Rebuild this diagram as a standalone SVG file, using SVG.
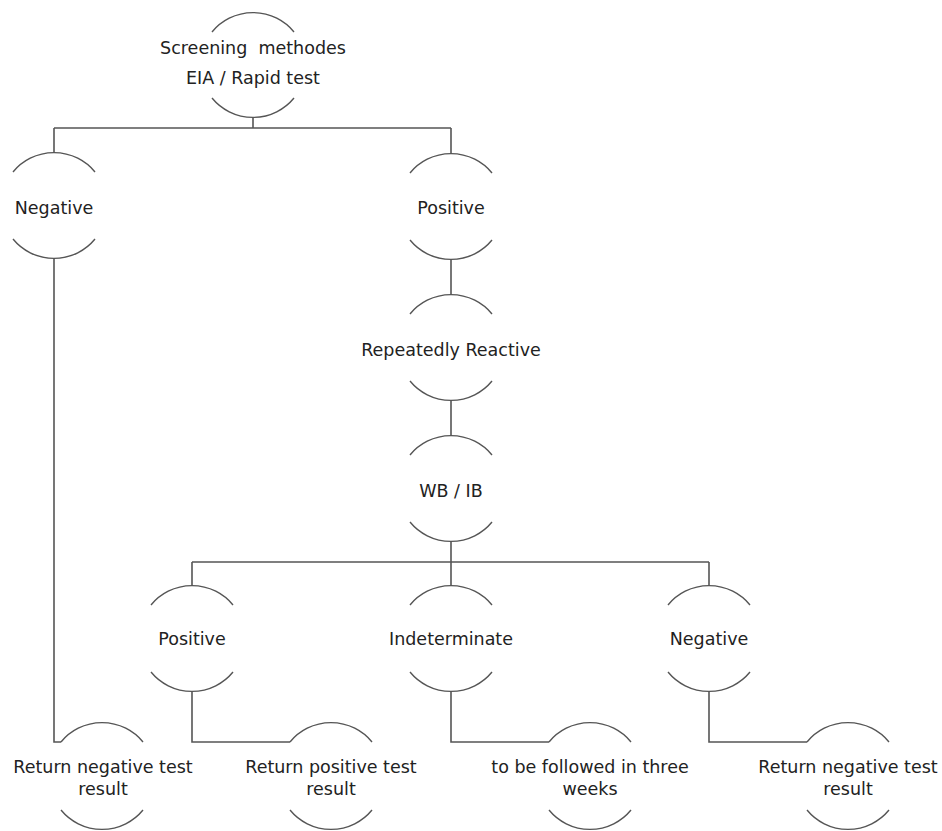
<svg xmlns="http://www.w3.org/2000/svg" width="942" height="831" viewBox="0 0 942 831">
<style>
  .arc { fill: none; stroke: #555; stroke-width: 1.4; }
  .con { fill: none; stroke: #555; stroke-width: 1.6; }
  text { font-family: "DejaVu Sans", Verdana, sans-serif; font-size: 17.5px; fill: #222; text-anchor: middle; white-space: pre; }
</style>
<rect width="942" height="831" fill="#fff"/>
<g id="connectors">
  <path class="con" d="M253,118 V128 M54,128 H451 M54,128 V152 M451,128 V153"/>
  <path class="con" d="M54,258 V742 H61"/>
  <path class="con" d="M451,259 V294"/>
  <path class="con" d="M451,400 V435"/>
  <path class="con" d="M451,541 V562 M192,562 H709 M192,562 V585 M451,562 V585 M709,562 V585"/>
  <path class="con" d="M192,691 V742 H290"/>
  <path class="con" d="M451,691 V742 H549"/>
  <path class="con" d="M709,691 V742 H807"/>
</g>
<g id="n1">
  <path class="arc" d="M212,32 A53,53 0 0 1 294,32 M212,98 A53,53 0 0 0 294,98"/>
  <text x="253" y="54">Screening  methodes</text>
  <text x="253" y="84">EIA / Rapid test</text>
</g>
<g id="n2">
  <path class="arc" d="M13,172 A53,53 0 0 1 95,172 M13,239 A53,53 0 0 0 95,239"/>
  <text x="54" y="214">Negative</text>
</g>
<g id="n3">
  <path class="arc" d="M410,173 A53,53 0 0 1 492,173 M410,240 A53,53 0 0 0 492,240"/>
  <text x="451" y="214">Positive</text>
</g>
<g id="n4">
  <path class="arc" d="M410,314 A53,53 0 0 1 492,314 M410,381 A53,53 0 0 0 492,381"/>
  <text x="451" y="356">Repeatedly Reactive</text>
</g>
<g id="n5">
  <path class="arc" d="M410,455 A53,53 0 0 1 492,455 M410,522 A53,53 0 0 0 492,522"/>
  <text x="451" y="497">WB / IB</text>
</g>
<g id="n6">
  <path class="arc" d="M151,605 A53,53 0 0 1 233,605 M151,672 A53,53 0 0 0 233,672"/>
  <text x="192" y="645">Positive</text>
</g>
<g id="n7">
  <path class="arc" d="M410,605 A53,53 0 0 1 492,605 M410,672 A53,53 0 0 0 492,672"/>
  <text x="451" y="645">Indeterminate</text>
</g>
<g id="n8">
  <path class="arc" d="M668,605 A53,53 0 0 1 750,605 M668,672 A53,53 0 0 0 750,672"/>
  <text x="709" y="645">Negative</text>
</g>
<g id="n9">
  <path class="arc" d="M61,742 A53,53 0 0 1 143,742 M61,810 A53,53 0 0 0 143,810"/>
  <text x="103" y="773">Return negative test</text>
  <text x="103" y="795">result</text>
</g>
<g id="n10">
  <path class="arc" d="M290,742 A53,53 0 0 1 372,742 M290,810 A53,53 0 0 0 372,810"/>
  <text x="331" y="773">Return positive test</text>
  <text x="331" y="795">result</text>
</g>
<g id="n11">
  <path class="arc" d="M549,742 A53,53 0 0 1 631,742 M549,810 A53,53 0 0 0 631,810"/>
  <text x="590" y="773">to be followed in three</text>
  <text x="590" y="795">weeks</text>
</g>
<g id="n12">
  <path class="arc" d="M807,742 A53,53 0 0 1 889,742 M807,810 A53,53 0 0 0 889,810"/>
  <text x="848" y="773">Return negative test</text>
  <text x="848" y="795">result</text>
</g>
</svg>
